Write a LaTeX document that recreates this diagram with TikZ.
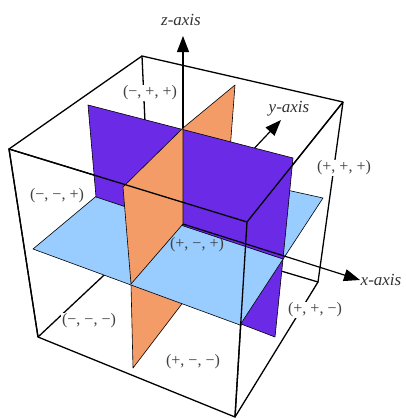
\documentclass[tikz,border=0pt]{standalone}
\usepackage{fontspec}
\setmainfont{Liberation Serif}
\usetikzlibrary{arrows.meta}
\definecolor{xzpurple}{RGB}{106,42,230}
\definecolor{yzorange}{RGB}{243,156,104}
\definecolor{xyblue}{RGB}{153,204,255}

\begin{document}
\begin{tikzpicture}[x=1pt,y=-1pt,
    edge/.style={line width=1.3pt,line join=round},
    plane/.style={draw=black,line width=0.6pt,line join=round},
    axis/.style={line width=1.2pt,-{Triangle[length=16pt,width=12pt]}},
    octant/.style={font=\fontsize{16}{19}\selectfont,text=black!75,inner sep=1pt},
    axislabel/.style={font=\fontsize{17}{20}\selectfont\itshape,text=black!80}]
        \useasboundingbox (0,0) rectangle (406,418);
        % Define points: the box
        \coordinate (FTL) at (9,149);
        \coordinate (FTR) at (247,222);
        \coordinate (BTR) at (343,102);
        \coordinate (BTL) at (142,56);
        \coordinate (FBL) at (38,337);
        \coordinate (FBR) at (235,417);
        \coordinate (BBR) at (318,282);
        \coordinate (BBL) at (150,232);
        % Define points: the planes
        \coordinate (O) at (183,224);
        \coordinate (ZT) at (183,128);
        \coordinate (PTL) at (88,105);
        \coordinate (PTR) at (293,158);
        \coordinate (PBR) at (275,337);
        \coordinate (PBL) at (100,270);
        \coordinate (PML) at (96,197);
        \coordinate (PMR) at (283,259);
        \coordinate (OFT) at (123,187);
        \coordinate (OBT) at (235,85);
        \coordinate (OBB) at (223,250);
        \coordinate (OFB) at (133,368);
        \coordinate (OFM) at (131,284);
        \coordinate (OBM) at (228,177);
        \coordinate (BLf) at (33,249);
        \coordinate (BFr) at (240,325);
        \coordinate (BRt) at (323,198);
        \coordinate (BBk) at (142,158);
        % Axis tips
        \coordinate (xtip) at (360,280);
        \coordinate (ytip) at (281,120);
        \coordinate (ztip) at (183,36);
        % Box edges
        \draw[edge] (BTL) -- (BTR) -- (BBR) -- (BBL) -- cycle;
        \draw[edge] (FTL) -- (FTR) -- (FBR) -- (FBL) -- cycle;
        \draw[edge] (FTL) -- (BTL) (FTR) -- (BTR) (FBR) -- (BBR) (FBL) -- (BBL);
        % Planes, back to front
        \filldraw[plane,fill=yzorange] (ZT) -- (OBT) -- (OBM) -- (O) -- cycle;
        \filldraw[plane,fill=yzorange] (OFM) -- (OFB) -- (OBB) -- (OBM) -- cycle;
        \filldraw[plane,fill=xzpurple] (PML) -- (PBL) -- (PBR) -- (PMR) -- cycle;
        \filldraw[plane,fill=xyblue] (BLf) -- (BFr) -- (BRt) -- (BBk) -- cycle;
        \draw[axis] (O) -- (ytip);
        \filldraw[plane,fill=xzpurple] (PTL) -- (PTR) -- (PMR) -- (PML) -- cycle;
        \filldraw[plane,fill=yzorange] (ZT) -- (OFT) -- (OFM) -- (O) -- cycle;
        % Axes
        \draw[axis] (O) -- (xtip);
        \draw[axis] (ZT) -- (ztip);
        % Front edges over the planes
        \draw[edge] (FBL) -- (FTL) -- (FTR) -- (BTR) (FTR) -- (FBR);
        % Label the axes
        \node[axislabel] (zlab) at (181,20) {z-axis};
        \node[axislabel] (ylab) at (289,109) {y-axis};
        \node[axislabel] (xlab) at (381,280) {x-axis};
        % Label the octants
        \node[octant,fill=white] (mpp) at (150,93) {(−, +, +)};
        \node[octant,fill=white] (ppp) at (344,168) {(+, +, +)};
        \node[octant,fill=white] (mmp) at (57,196) {(−, −, +)};
        \node[octant] (pmp) at (197,245) {(+, −, +)};
        \node[octant,fill=white] (mmm) at (89,321) {(−, −, −)};
        \node[octant,fill=white] (pmm) at (193,362) {(+, −, −)};
        \node[octant,fill=white] (ppm) at (315,310) {(+, +, −)};
\end{tikzpicture}
\end{document}
